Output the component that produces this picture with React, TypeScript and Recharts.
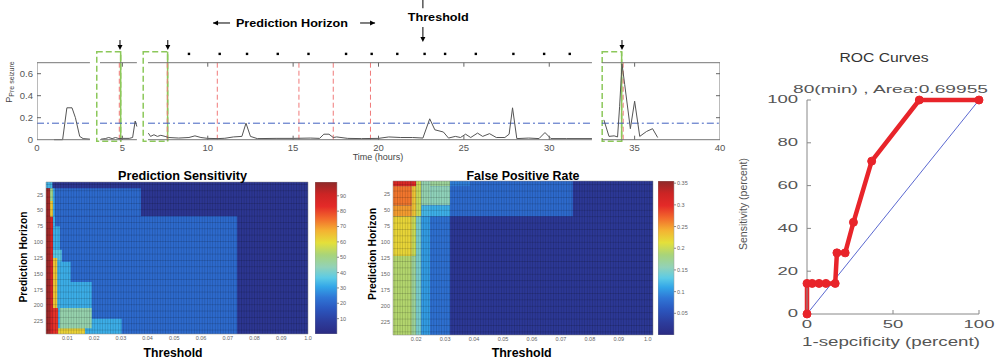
import React from 'react';
import {
  ComposedChart, BarChart, Bar, Line, Scatter, XAxis, YAxis, ReferenceLine, ReferenceArea,
} from 'recharts';

// ---------------- P(pre-seizure) trace ----------------
const hourTicks = [0, 5, 10, 15, 20, 25, 30, 35, 40];
const probTicks = [0, 0.2, 0.4, 0.6];
const recorded = [[0, 3.1], [3.69, 5.85], [6.5, 32.5], [33.08, 40]];

const trace1 = [[1.0, 0], [1.5, 0], [1.75, 0.29], [2.05, 0.29], [2.25, 0.2], [2.5, 0.03], [2.7, 0.01], [3.1, 0.005]];
const trace2 = [[3.75, 0.005], [4.0, 0.01], [4.2, 0.02], [4.4, 0.01], [4.6, 0.02], [4.8, 0.01], [5.0, 0.012], [5.4, 0.012], [5.6, 0.02], [5.75, 0.17], [5.85, 0.12]];
const trace3 = [[6.52, 0.06], [6.65, 0.03], [6.85, 0.045], [7.05, 0.03], [7.25, 0.04], [7.5, 0.03], [7.7, 0.02], [8.3, 0.015], [8.9, 0.02], [9.25, 0.035], [9.6, 0.02], [10.0, 0.012], [10.6, 0.01], [11.0, 0.013], [11.5, 0.025], [12.0, 0.03], [12.24, 0.15], [12.5, 0.03], [12.9, 0.01], [14.0, 0.012], [15.0, 0.012], [16.0, 0.015], [16.55, 0.012], [16.8, 0.05], [17.1, 0.05], [17.35, 0.02], [17.55, 0.025], [18.2, 0.012], [19.0, 0.01], [20.0, 0.012], [20.6, 0.025], [21.3, 0.02], [22.0, 0.02], [22.6, 0.015], [23.0, 0.19], [23.3, 0.09], [23.8, 0.07], [24.1, 0.015], [24.5, 0.03], [24.8, 0.02], [25.1, 0.05], [25.4, 0.02], [25.8, 0.06], [26.1, 0.03], [26.5, 0.055], [26.9, 0.02], [27.4, 0.02], [27.65, 0.05], [27.85, 0.29], [28.1, 0.01], [28.8, 0.015], [29.4, 0.01], [29.75, 0.065], [30.1, 0.01], [31.0, 0.01], [32.5, 0.01]];
const trace4 = [[33.2, 0.18], [33.5, 0.03], [33.8, 0.035], [34.0, 0.025], [34.12, 0.3], [34.26, 0.69], [34.42, 0.5], [34.75, 0.1], [35.0, 0.35], [35.3, 0.03], [35.7, 0.075], [36.05, 0.1], [36.35, 0.02]];

const threshold = 0.15;
const seizureHours = [4.86, 7.66, 34.26];
const preictalWindows = [[3.5, 4.9], [6.22, 7.65], [33.1, 34.24]];
const alarmLines = [4.82, 7.63, 10.56, 15.34, 17.35, 19.53, 34.33];
const alarmDots = [8.9, 10.7, 12.3, 14.1, 15.9, 18.1, 19.6, 21.1, 22.7, 23.9, 25.7, 27.9, 29.7, 31.2];

// ---------------- heatmaps ----------------
const horizonTicks = [25, 50, 75, 100, 125, 150, 175, 200, 225];
const sensThrTicks = [0.01, 0.02, 0.03, 0.04, 0.05, 0.06, 0.07, 0.08, 0.09, 0.1];
const fprThrTicks = [0.02, 0.03, 0.04, 0.05, 0.06, 0.07, 0.08, 0.09, 0.1];
const sensBarTicks = [10, 20, 30, 40, 50, 60, 70, 80, 90];
const fprBarTicks = [0.05, 0.1, 0.15, 0.2, 0.25, 0.3, 0.35];

// [threshold from, threshold to, horizon from, horizon to, sensitivity %]
const sensitivityCells = [
  [0.002, 0.1, 5, 245, 5],
  [0.0044, 0.0375, 15, 59, 21],
  [0.0044, 0.0735, 59, 245, 21],
  [0.002, 0.0044, 5, 15, 33],
  [0.0046, 0.0052, 15, 59, 32],
  [0.0046, 0.0054, 59, 75, 32],
  [0.0046, 0.0072, 75, 112, 32],
  [0.0046, 0.0079, 112, 131, 36],
  [0.0046, 0.0112, 131, 163, 32],
  [0.0046, 0.0191, 163, 221, 32],
  [0.0046, 0.0303, 221, 245, 32],
  [0.0046, 0.0062, 125, 204, 64],
  [0.0072, 0.0191, 204, 236, 45],
  [0.0065, 0.0166, 236, 245, 62],
  [0.0046, 0.0065, 204, 245, 82],
  [0.002, 0.0035, 15, 245, 97],
  [0.0035, 0.0046, 15, 35, 50],
  [0.0035, 0.0046, 35, 60, 64],
  [0.0035, 0.0046, 60, 245, 88],
];

// [threshold from, threshold to, horizon from, horizon to, false positive rate]
const fprCells = [
  [0.012, 0.1018, 5, 245, 0.022],
  [0.0317, 0.0741, 5, 60, 0.075],
  [0.0317, 0.0386, 5, 13, 0.09],
  [0.0248, 0.0317, 60, 245, 0.08],
  [0.012, 0.0185, 5, 13, 0.31],
  [0.012, 0.0185, 13, 43, 0.265],
  [0.012, 0.0185, 43, 60, 0.25],
  [0.012, 0.0185, 60, 122, 0.22],
  [0.012, 0.0185, 122, 245, 0.19],
  [0.0185, 0.02, 5, 13, 0.3],
  [0.0185, 0.02, 13, 60, 0.23],
  [0.0185, 0.02, 60, 122, 0.2],
  [0.0185, 0.02, 122, 245, 0.17],
  [0.02, 0.0218, 5, 60, 0.2],
  [0.02, 0.0218, 60, 245, 0.145],
  [0.0218, 0.0248, 5, 43, 0.16],
  [0.0218, 0.0248, 43, 60, 0.12],
  [0.0218, 0.0248, 60, 245, 0.105],
  [0.0248, 0.0317, 5, 13, 0.17],
  [0.0248, 0.0317, 13, 43, 0.155],
  [0.0248, 0.0317, 43, 60, 0.115],
];

// ---------------- ROC ----------------
const rocFpr = [0, 0, 3, 7, 11, 16.4, 17.4, 22.2, 27, 37.6, 65.3, 100];
const rocSens = [0, 14.29, 14.29, 14.29, 14.29, 14.29, 28.57, 28.57, 42.86, 71.43, 100, 100];
const rocData = rocFpr.map((x, i) => ({ x, y: rocSens[i] }));
const chanceData = [{ x: 0, y: 0 }, { x: 100, y: 100 }];

const FONT = '"Liberation Sans", Arial, sans-serif';

const jetStops: [number, string][] = [
  [0.0, '#2b2b82'], [0.08, '#2c3c9c'], [0.17, '#2b58c0'], [0.24, '#2f76d6'], [0.31, '#33a6e8'],
  [0.37, '#5ccbe6'], [0.44, '#92d2b8'], [0.52, '#a8d47a'], [0.6, '#e4e03a'], [0.68, '#f4b232'],
  [0.76, '#f26a2c'], [0.84, '#e42a28'], [0.92, '#cc2424'], [1.0, '#8e2a2a'],
];
const hex = (c: string) => [1, 3, 5].map((i) => parseInt(c.slice(i, i + 2), 16));
function jet(v: number) {
  const x = Math.max(0, Math.min(1, v));
  for (let i = 1; i < jetStops.length; i++) {
    const [o0, c0] = jetStops[i - 1];
    const [o1, c1] = jetStops[i];
    if (x <= o1) {
      const k = (x - o0) / (o1 - o0);
      const a = hex(c0), b = hex(c1);
      return `rgb(${a.map((u, j) => Math.round(u + (b[j] - u) * k)).join(',')})`;
    }
  }
  return jetStops[jetStops.length - 1][1];
}

const rows = (segs: number[][][]) =>
  segs.flatMap((s) => [...s.map(([t, p]) => ({ t, p })), { t: s[s.length - 1][0], p: null as number | null }]);
const spanAt = (p: number) => rows(recorded.map(([a, b]) => [[a, p], [b, p]]));

const Txt = ({ x, y, w, size, bold, fill = '#000', rotate, children }: any) => (
  <text
    x={0} y={0}
    transform={`translate(${x},${y})${rotate ? ' rotate(-90)' : ''}`}
    textAnchor="middle" fontSize={size} fontWeight={bold ? 'bold' : 'normal'} fill={fill}
    fontFamily={FONT} textLength={w} lengthAdjust="spacingAndGlyphs"
  >
    {children}
  </text>
);

const tickMark = (dx: number, dy: number) => (p: any) => (
  <line x1={p.cx} y1={p.cy} x2={p.cx + dx} y2={p.cy + dy} stroke="#666" strokeWidth={1} />
);
const downArrow = (len: number) => (p: any) => (
  <g>
    <line x1={p.cx} y1={p.cy - len} x2={p.cx} y2={p.cy - 4} stroke="#000" strokeWidth={1} />
    <path d={`M${p.cx - 2.5},${p.cy - 5}L${p.cx + 2.5},${p.cy - 5}L${p.cx},${p.cy}Z`} fill="#000" />
  </g>
);
const sideArrow = (len: number) => (p: any) => (
  <g>
    <line x1={p.cx} y1={p.cy} x2={p.cx + len} y2={p.cy} stroke="#000" strokeWidth={1} />
    <path d={`M${p.cx},${p.cy}L${p.cx + Math.sign(len) * 5},${p.cy - 2.5}L${p.cx + Math.sign(len) * 5},${p.cy + 2.5}Z`} fill="#000" />
  </g>
);
const square = (p: any) => <rect x={p.cx - 1.2} y={p.cy - 1.2} width={2.4} height={2.4} fill="#000" />;
const caption = (txt: string, w: number) => (p: any) => (
  <Txt x={p.cx} y={p.cy} w={w} size={11} bold>{txt}</Txt>
);

function TracePanel() {
  return (
    <ComposedChart width={730} height={165} margin={{ top: 0, right: 10, bottom: 2, left: 0 }}>
      <XAxis
        type="number" dataKey="t" domain={[0, 40]} allowDataOverflow ticks={hourTicks} interval={0}
        axisLine={false} tickLine={false} tickSize={0} tickMargin={1} height={20}
        tick={{ fontSize: 9.5, fill: '#555' }}
        label={() => <text x={378} y={160} textAnchor="middle" fontSize={9} fill="#444" fontFamily={FONT}>Time (hours)</text>}
      />
      <YAxis
        type="number" dataKey="p" domain={[-0.03, 1.27]} allowDataOverflow ticks={probTicks} interval={0}
        width={37} axisLine={false} tickLine={false} tickSize={0} tickMargin={4}
        tick={{ fontSize: 9.5, fill: '#555' }}
        tickFormatter={(v: number) => (v === 0 ? '0' : String(v))}
        label={() => (
          <text transform="translate(12,82) rotate(-90)" textAnchor="middle" fontSize={9} fill="#444" fontFamily={FONT}>
            P<tspan fontSize={7} dy={2}>Pre seizure</tspan>
          </text>
        )}
      />
      {preictalWindows.map(([a, b]) => (
        <ReferenceArea key={`w${a}`} x1={a} x2={b} y1={-0.015} y2={0.8} fill="none" stroke="#8cc85a" strokeWidth={1.5} strokeDasharray="6 3" ifOverflow="visible" />
      ))}
      {preictalWindows.map(([a, b]) => (
        <ReferenceLine key={`e${a}`} segment={[{ x: b, y: -0.015 }, { x: b, y: 0.8 }]} stroke="#8cc85a" strokeWidth={1.5} />
      ))}
      {alarmLines.map((t) => (
        <ReferenceLine key={`r${t}`} segment={[{ x: t, y: 0 }, { x: t, y: 0.7 }]} stroke="#f07a7a" strokeWidth={1} strokeDasharray="5 3" />
      ))}
      <Line data={spanAt(threshold)} dataKey="p" stroke="#4060c0" strokeWidth={1} strokeDasharray="7 3 2 3" dot={false} connectNulls={false} isAnimationActive={false} />
      <Line data={rows([trace1, trace2, trace3, trace4])} dataKey="p" stroke="#555" strokeWidth={1} dot={false} connectNulls={false} isAnimationActive={false} />
      <Line data={spanAt(0.7)} dataKey="p" stroke="#777" strokeWidth={1} dot={false} connectNulls={false} isAnimationActive={false} />
      <Line data={spanAt(0)} dataKey="p" stroke="#777" strokeWidth={1} dot={false} connectNulls={false} isAnimationActive={false} />
      <Line data={[{ t: 0, p: 0 }, { t: 0, p: 0.7 }]} dataKey="p" stroke="#777" strokeWidth={1} dot={false} isAnimationActive={false} />
      <Line data={[{ t: 40, p: 0 }, { t: 40, p: 0.7 }]} dataKey="p" stroke="#777" strokeWidth={1} dot={false} isAnimationActive={false} />
      <Scatter data={probTicks.slice(1).map((p) => ({ t: 0, p }))} shape={tickMark(4, 0)} isAnimationActive={false} />
      <Scatter data={probTicks.slice(1).map((p) => ({ t: 40, p }))} shape={tickMark(-4, 0)} isAnimationActive={false} />
      <Scatter data={hourTicks.slice(1, -1).map((t) => ({ t, p: 0.7 }))} shape={tickMark(0, 4)} isAnimationActive={false} />
      <Scatter data={hourTicks.slice(1, -1).map((t) => ({ t, p: 0 }))} shape={tickMark(0, -4)} isAnimationActive={false} />
      <Scatter data={alarmDots.map((t) => ({ t, p: 0.78 }))} shape={square} isAnimationActive={false} />
      <Scatter data={seizureHours.map((t) => ({ t, p: 0.815 }))} shape={downArrow(10)} isAnimationActive={false} />
      <Scatter data={[{ t: 22.6, p: 0.888 }]} shape={downArrow(15)} isAnimationActive={false} />
      <ReferenceLine segment={[{ x: 22.6, y: 1.195 }, { x: 22.6, y: 1.27 }]} stroke="#000" strokeWidth={1} />
      <Scatter data={[{ t: 10.31, p: 1.061 }]} shape={sideArrow(17)} isAnimationActive={false} />
      <Scatter data={[{ t: 19.8, p: 1.061 }]} shape={sideArrow(-15)} isAnimationActive={false} />
      <Scatter data={[{ t: 14.93, p: 1.025 }]} shape={caption('Prediction Horizon', 112)} isAnimationActive={false} />
      <Scatter data={[{ t: 23.5, p: 1.079 }]} shape={caption('Threshold', 61)} isAnimationActive={false} />
    </ComposedChart>
  );
}

type HeatCfg = {
  cells: number[][]; max: number; xDomain: [number, number]; xTicks: number[];
  width: number; margin: { top: number; right: number; bottom: number; left: number }; yWidth: number;
  meshId: string; meshW: number; meshH: number;
  title: string; titleX: number; titleW: number; xLabelX: number; xLabelW: number;
  yLabelX: number; yLabelY: number; yLabelW: number;
};

function Heatmap(c: HeatCfg) {
  const centers = c.cells.map((b) => ({ t: (b[0] + b[1]) / 2, h: (b[2] + b[3]) / 2 }));
  return (
    <ComposedChart width={c.width} height={196} margin={c.margin}>
      <defs>
        <pattern id={c.meshId} width={c.meshW} height={c.meshH} patternUnits="userSpaceOnUse">
          <path d={`M0.3 0V${c.meshH}M0 0.3H${c.meshW}`} stroke="#000" strokeOpacity={0.28} strokeWidth={0.6} fill="none" />
        </pattern>
      </defs>
      <XAxis
        type="number" dataKey="t" domain={c.xDomain} allowDataOverflow ticks={c.xTicks} interval={0}
        tickFormatter={(v: number) => (v >= 0.0999 ? '1.0' : v.toFixed(2))}
        height={12} axisLine={false} tickLine={false} tickSize={0} tickMargin={2}
        tick={{ fontSize: 5.5, fill: '#666' }}
        label={() => <Txt x={c.xLabelX} y={192} w={c.xLabelW} size={13} bold>Threshold</Txt>}
      />
      <YAxis
        type="number" dataKey="h" domain={[5, 245]} reversed allowDataOverflow ticks={horizonTicks} interval={0}
        width={c.yWidth} axisLine={false} tickLine={false} tickSize={0} tickMargin={3}
        tick={{ fontSize: 5.5, fill: '#666' }}
        label={() => (
          <g>
            <Txt x={c.titleX} y={15} w={c.titleW} size={12} bold>{c.title}</Txt>
            <Txt x={c.yLabelX} y={c.yLabelY} w={c.yLabelW} size={11} bold rotate>Prediction Horizon</Txt>
          </g>
        )}
      />
      {c.cells.map((b, i) => (
        <ReferenceArea key={i} x1={b[0]} x2={b[1]} y1={b[2]} y2={b[3]} fill={jet(b[4] / c.max)} fillOpacity={1} stroke="none" />
      ))}
      <ReferenceArea x1={c.xDomain[0]} x2={c.xDomain[1]} y1={5} y2={245} fill={`url(#${c.meshId})`} fillOpacity={1} stroke="#888" strokeWidth={0.5} />
      <Scatter data={centers} shape={() => <g />} isAnimationActive={false} />
    </ComposedChart>
  );
}

function ColorBar({ id, max, ticks, barW, h }: { id: string; max: number; ticks: number[]; barW: number; h: number }) {
  return (
    <BarChart width={barW + 24} height={h} data={[{ name: 'scale', v: max }]} margin={{ top: 0, right: 0, bottom: 0, left: 0 }} barCategoryGap={0}>
      <defs>
        <linearGradient id={id} x1="0" y1="1" x2="0" y2="0">
          {jetStops.map(([o, col]) => <stop key={o} offset={o} stopColor={col} />)}
        </linearGradient>
      </defs>
      <XAxis dataKey="name" hide />
      <YAxis
        orientation="right" type="number" domain={[0, max]} allowDataOverflow ticks={ticks} interval={0} width={24}
        axisLine={false} tickSize={2} tickMargin={1} tickLine={{ stroke: '#888' }}
        tick={{ fontSize: 5.5, fill: '#666' }}
      />
      <Bar dataKey="v" fill={`url(#${id})`} stroke="#999" strokeWidth={0.5} isAnimationActive={false} />
    </BarChart>
  );
}

const RocTick = ({ x, y, payload, textAnchor }: any) => (
  <text transform={`translate(${x},${y}) scale(1.85,1)`} textAnchor={textAnchor} dominantBaseline="central" fontSize={10} fill="#555" fontFamily={FONT}>
    {payload.value}
  </text>
);

function RocPanel() {
  return (
    <ComposedChart width={271} height={361} margin={{ top: 100, right: 22, bottom: 27, left: 0 }}>
      <XAxis
        type="number" dataKey="x" domain={[0, 100]} ticks={[0, 50, 100]} interval={0}
        height={20} stroke="#888" tickSize={-4} tickMargin={15} tick={<RocTick />}
        label={() => <Txt x={161} y={346} w={178} size={12} fill="#555">1-sepcificity (percent)</Txt>}
      />
      <XAxis
        xAxisId="top" orientation="top" type="number" domain={[0, 100]} allowDataOverflow ticks={[50]}
        height={0} stroke="#888" tickSize={-4} tick={false}
      />
      <YAxis
        type="number" domain={[0, 100]} ticks={[0, 20, 40, 60, 80, 100]} interval={0}
        width={77} stroke="#888" tickSize={-4} tickMargin={13} tick={<RocTick />}
        label={() => (
          <g>
            <Txt x={154} y={62} w={89} size={12.5} fill="#333">ROC Curves</Txt>
            <Txt x={160.5} y={93} w={195} size={11.5} fill="#555">80(min) , Area:0.69955</Txt>
            <Txt x={17} y={204} w={92} size={10.5} fill="#555" rotate>Sensitivity (percent)</Txt>
          </g>
        )}
      />
      <YAxis
        yAxisId="right" orientation="right" type="number" domain={[0, 100]} allowDataOverflow ticks={[20, 40, 60, 80]}
        width={0} stroke="#888" tickSize={-4} tick={false}
      />
      <Line data={chanceData} dataKey="y" stroke="#5a68d0" strokeWidth={1} dot={false} isAnimationActive={false} />
      <Line
        data={rocData} dataKey="y" stroke="#e8242a" strokeWidth={4.5} strokeLinejoin="round"
        dot={{ r: 4, fill: '#e8242a', stroke: '#e8242a', strokeWidth: 1 }} isAnimationActive={false}
      />
    </ComposedChart>
  );
}

export default function App() {
  return (
    <div style={{ position: 'absolute', left: 0, top: 0, width: 1001, height: 361, background: '#fff', fontFamily: FONT, overflow: 'hidden' }}>
      <div style={{ position: 'absolute', left: 0, top: 0 }}>
        <TracePanel />
      </div>
      <div style={{ position: 'absolute', left: 0, top: 165 }}>
        <Heatmap
          cells={sensitivityCells} max={99} xDomain={[0.002, 0.1]} xTicks={sensThrTicks}
          width={345} margin={{ top: 17, right: 37, bottom: 15, left: 0 }} yWidth={46}
          meshId="meshS" meshW={2.62} meshH={6.33}
          title="Prediction Sensitivity" titleX={182.5} titleW={129} xLabelX={173} xLabelW={59}
          yLabelX={27} yLabelY={92} yLabelW={91}
        />
      </div>
      <div style={{ position: 'absolute', left: 315, top: 182 }}>
        <ColorBar id="cbSens" max={99} ticks={sensBarTicks} barW={22} h={152} />
      </div>
      <div style={{ position: 'absolute', left: 345, top: 165 }}>
        <Heatmap
          cells={fprCells} max={0.355} xDomain={[0.012, 0.1018]} xTicks={fprThrTicks}
          width={335} margin={{ top: 16, right: 27, bottom: 14, left: 0 }} yWidth={48}
          meshId="meshF" meshW={2.6} meshH={6.4}
          title="False Positive Rate" titleX={178} titleW={113} xLabelX={176.7} xLabelW={60}
          yLabelX={30.5} yLabelY={89} yLabelW={92}
        />
      </div>
      <div style={{ position: 'absolute', left: 658, top: 181 }}>
        <ColorBar id="cbFpr" max={0.355} ticks={fprBarTicks} barW={16} h={154} />
      </div>
      <div style={{ position: 'absolute', left: 730, top: 0 }}>
        <RocPanel />
      </div>
    </div>
  );
}
